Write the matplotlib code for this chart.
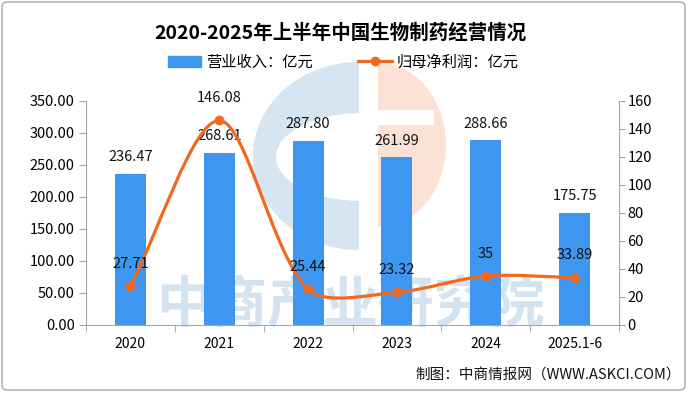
import numpy as np
import matplotlib
matplotlib.use('Agg')
import matplotlib.pyplot as plt
from matplotlib.patches import Wedge, Ellipse, Rectangle, FancyBboxPatch, PathPatch, Patch
from matplotlib.lines import Line2D
from matplotlib.path import Path
from matplotlib.transforms import Affine2D

plt.rcParams['font.family'] = ['Noto Sans CJK SC', 'DejaVu Sans']

# data
years = ['2020', '2021', '2022', '2023', '2024', '2025.1-6']
revenue = [236.47, 268.61, 287.80, 261.99, 288.66, 175.75]
profit = [27.71, 146.08, 25.44, 23.32, 35, 33.89]
left_ticks = [0, 50, 100, 150, 200, 250, 300, 350]
right_ticks = [0, 20, 40, 60, 80, 100, 120, 140, 160]

BAR_C = '#3d97f0'
LINE_C = '#f0691e'
AXIS_C = '#a6a6a6'

fig = plt.figure(figsize=(7, 3.94), dpi=100)

# background layer in pixel coords: frame, watermark logo and text
bg = fig.add_axes([0, 0, 1, 1], zorder=0)
bg.set_xlim(0, 700)
bg.set_ylim(394, 0)
bg.axis('off')
bg.add_patch(FancyBboxPatch((2, 2), 683, 388, boxstyle='round,pad=0,rounding_size=5',
                            fc='white', ec='#b3b3b3', lw=1.2))
bg.add_patch(Wedge((0, 0), 1, 90, 270, fc='#d5e5f1', ec='none',
                   transform=Affine2D().scale(106, 94).translate(359, 156) + bg.transData))
bg.add_patch(Ellipse((362, 157), 172, 88, fc='white', ec='none'))
bg.add_patch(Wedge((0, 0), 1, -90, 90, fc='#fbe2d5', ec='none',
                   transform=Affine2D().scale(68, 82).translate(378, 145) + bg.transData))
bg.add_patch(Rectangle((378, 110), 56, 15, fc='white', ec='none'))
bg.text(350, 306, '中商产业研究院', ha='center', va='center', fontsize=40,
        color='#d3e3f1', fontweight='bold')

# main axes
ax = fig.add_axes([86 / 700, 1 - 325 / 394, 533 / 700, 224 / 394], zorder=1)
ax.patch.set_visible(False)
x = np.arange(len(years))
ax.bar(x, revenue, width=0.35, color=BAR_C, zorder=2)
ax.set_xlim(-0.5, len(years) - 0.5)
ax.set_ylim(0, 350)
ax.set_yticks(left_ticks)
ax.set_yticklabels(['%.2f' % t for t in left_ticks])
ax.set_xticks(x)
ax.set_xticklabels(years)
ax.set_xticks(np.arange(-0.5, len(years), 1), minor=True)
ax.tick_params(axis='x', which='major', length=0, pad=9, labelsize=10)
ax.tick_params(axis='x', which='minor', length=5, color=AXIS_C)
ax.tick_params(axis='y', length=5, color=AXIS_C, labelsize=10.5, pad=3)
for s in ['top', 'right']:
    ax.spines[s].set_visible(False)
for s in ['left', 'bottom']:
    ax.spines[s].set_color(AXIS_C)

for xi, v in zip(x, revenue):
    ax.annotate('%.2f' % v, (xi, v), xytext=(0, 12), textcoords='offset points',
                ha='center', va='center', fontsize=10.5, color='#111111')

ax2 = ax.twinx()
ax2.set_zorder(2)
ax2.patch.set_visible(False)
ax2.set_ylim(0, 160)
ax2.set_yticks(right_ticks)
ax2.tick_params(axis='y', length=4, color=AXIS_C, labelsize=10.5, pad=2)
for s in ['top', 'left', 'bottom']:
    ax2.spines[s].set_visible(False)
ax2.spines['right'].set_color(AXIS_C)

# smoothed profit line (bezier through the points, built in screen space)
pts = ax2.transData.transform(np.column_stack([x, profit]))
n = len(pts)
verts = [pts[0]]
codes = [Path.MOVETO]
for i in range(n - 1):
    p0 = pts[i - 1] if i > 0 else pts[i]
    p1 = pts[i]
    p2 = pts[i + 1]
    p3 = pts[i + 2] if i + 2 < n else pts[i + 1]
    d01 = np.hypot(*(p1 - p0))
    d12 = np.hypot(*(p2 - p1))
    d23 = np.hypot(*(p3 - p2))
    c1 = p1 + (p2 - p0) * d12 / (d01 + d12) * 0.3
    c2 = p2 - (p3 - p1) * d12 / (d12 + d23) * 0.3
    verts += [c1, c2, p2]
    codes += [Path.CURVE4] * 3
verts = ax2.transData.inverted().transform(np.array(verts))
ax2.add_patch(PathPatch(Path(verts, codes), fill=False, ec=LINE_C, lw=2.3,
                        transform=ax2.transData, capstyle='round'))
ax2.plot(x, profit, 'o', color=LINE_C, markersize=6, zorder=3)

for xi, v in zip(x, profit):
    ax2.annotate('%g' % v, (xi, v), xytext=(0, 16), textcoords='offset points',
                 ha='center', va='center', fontsize=10.5, color='#111111')

# title, legend, source
fig.text(340 / 700, 1 - 33 / 394, '2020-2025年上半年中国生物制药经营情况',
         ha='center', va='center', fontsize=14, fontweight='bold')
handles = [Patch(color=BAR_C),
           Line2D([], [], color=LINE_C, lw=2.3, marker='o', markersize=6)]
fig.legend(handles, ['营业收入：亿元', '归母净利润：亿元'], loc='center',
           bbox_to_anchor=(343 / 700, 1 - 62 / 394), ncol=2, frameon=False,
           fontsize=11, handlelength=2.2, handletextpad=0.3, columnspacing=3.0)
fig.text(681 / 700, 1 - 375 / 394, '制图：中商情报网（WWW.ASKCI.COM）',
         ha='right', va='center', fontsize=10.5, color='#111111')

fig.savefig('out.png', dpi=100)
